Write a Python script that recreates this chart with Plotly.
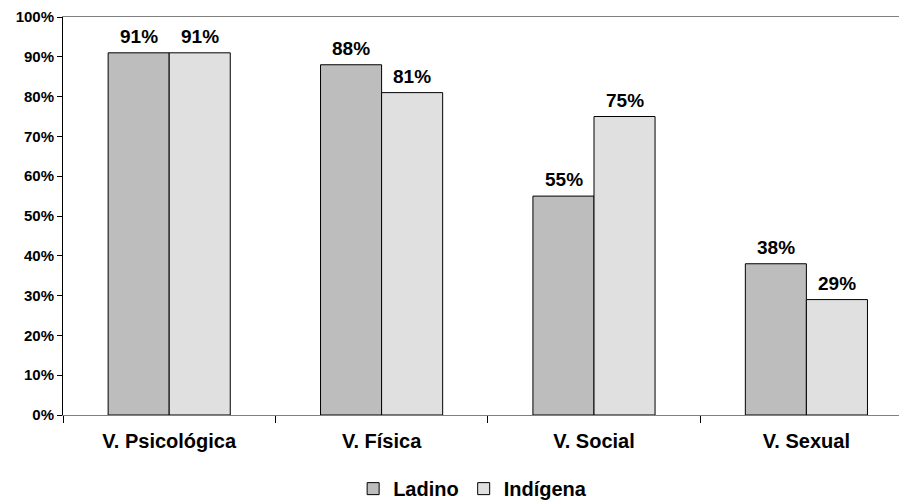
import plotly.graph_objects as go

categories = ["V. Psicológica", "V. Física", "V. Social", "V. Sexual"]
ladino = [91, 88, 55, 38]
indigena = [91, 81, 75, 29]
series_names = ["Ladino", "Indígena"]
colors = ["#bdbdbd", "#e0e0e0"]

FONT = "Liberation Sans, Arial, sans-serif"

fig = go.Figure()
for name, vals, col in zip(series_names, [ladino, indigena], colors):
    fig.add_trace(go.Bar(
        name=name, x=categories, y=vals,
        marker=dict(color=col, line=dict(color="#000000", width=1)),
    ))

# data labels above bars
half = 30.5
for vals, shift in [(ladino, -half), (indigena, half)]:
    for c, v in zip(categories, vals):
        fig.add_annotation(
            x=c, y=v, text=f"<b>{v}%</b>", showarrow=False,
            xshift=shift, yshift=4, yanchor="bottom",
            font=dict(family=FONT, size=19, color="#000000"),
        )

fig.update_layout(
    width=899, height=503,
    margin=dict(l=63, r=0, t=17, b=88, autoexpand=False),
    paper_bgcolor="white", plot_bgcolor="white",
    barmode="group", bargap=0.425, bargroupgap=0,
    font=dict(family=FONT, color="#000000"),
    showlegend=True,
    legend=dict(
        orientation="h", x=0.49, xanchor="center", y=-0.185, yanchor="middle",
        font=dict(family=FONT, size=20, color="#000000", weight="bold"),
        itemwidth=30, tracegroupgap=0,
    ),
)

fig.update_xaxes(
    type="category", range=[-0.5, 3.436],
    showline=True, linecolor="#808080", linewidth=1, mirror=True,
    ticks="outside", tickson="boundaries", ticklen=7, tickcolor="#000000",
    tickfont=dict(family=FONT, size=20, color="#000000", weight="bold"),
    ticklabelstandoff=8,
    showgrid=False, zeroline=False,
)
fig.update_yaxes(
    range=[0, 100], dtick=10, ticksuffix="%",
    showline=True, linecolor="#000000", linewidth=1,
    ticks="outside", ticklen=5, tickcolor="#000000",
    tickfont=dict(family=FONT, size=15, color="#000000", weight="bold"),
    showgrid=False, zeroline=False,
)

fig.write_html("out.html")
